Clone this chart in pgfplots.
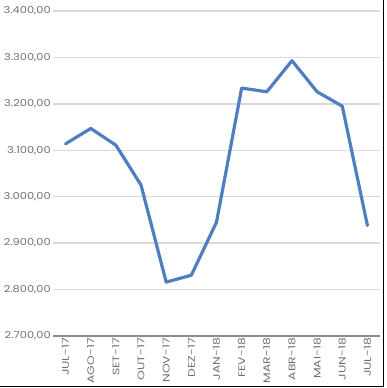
\documentclass[border=0pt]{standalone}
\usepackage{pgfplots}
\pgfplotsset{compat=1.18}
\usepackage{fontspec}
\setmainfont{Poppins}
\newfontfamily\ylabelfont{Poppins}[FakeStretch=1.2]
\newfontfamily\xlabelfont{Poppins}[FakeStretch=1.3]
\definecolor{lineblue}{HTML}{4F7FBE}
\definecolor{gridgray}{HTML}{D9D9D9}
\definecolor{axisgray}{HTML}{8C8C8C}
\definecolor{labelgray}{HTML}{707070}
\begin{document}
\begin{tikzpicture}[x=1pt,y=1pt]
\useasboundingbox (0,0) rectangle (387,388);
\begin{axis}[
  at={(53pt,52pt)}, anchor=south west,
  scale only axis, width=327pt, height=325pt,
  xmin=-0.5, xmax=12.5, ymin=2700, ymax=3400,
  axis line style={draw=none},
  major tick length=0pt,
  xtick={0,...,12},
  xticklabels={JUL-17,AGO-17,SET-17,OUT-17,NOV-17,DEZ-17,JAN-18,FEV-18,MAR-18,ABR-18,MAI-18,JUN-18,JUL-18},
  ytick={2800,2900,...,3400},
  extra y ticks={2700},
  extra y tick style={grid style={axisgray, line width=1.8pt}},
  ymajorgrids,
  grid style={gridgray, line width=1.5pt},
  yticklabel={\pgfmathprintnumber[fixed, fixed zerofill, precision=2, use comma, 1000 sep={.}, assume math mode=true]{\tick}},
  y tick label style={font=\ylabelfont\fontsize{9.5}{10}\selectfont, text=labelgray, inner sep=2pt},
  x tick label style={font=\xlabelfont\fontsize{9.5}{10}\selectfont, text=labelgray, inner sep=2pt, rotate=90, anchor=east},
  clip=false,
]
\addplot[lineblue, line width=3.2pt, line join=round, line cap=round] coordinates {
 (0,3114) (1,3147) (2,3111) (3,3025) (4,2816) (5,2831) (6,2945)
 (7,3234) (8,3226) (9,3293) (10,3226) (11,3195) (12,2938)
};
\end{axis}
\draw[black, line width=1pt] (383,388) -- (383,1.5) -- (0,1.5);
\end{tikzpicture}
\end{document}
